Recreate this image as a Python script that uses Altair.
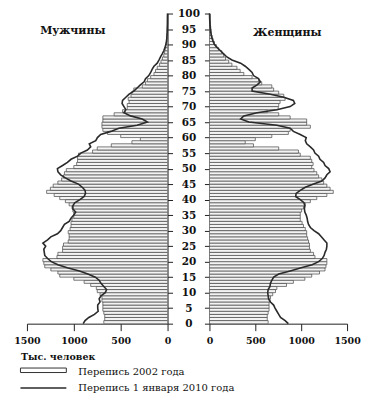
import altair as alt
import pandas as pd

ages = list(range(101))

# Перепись 2002 года, мужчины (тыс.)
m02 = [680, 670, 670, 680, 690, 690, 690, 700, 700, 720,
       750, 760, 820, 890, 1000, 1150, 1170, 1245, 1310, 1320,
       1330, 1180, 1170, 1120, 1120, 1110, 1060, 1050, 1050, 1060,
       1040, 1030, 1030, 1020, 1000, 1000, 1010, 1020, 1050, 1090,
       1150, 1210, 1290, 1250, 1220, 1170, 1130, 1110, 1100, 1080,
       1000, 970, 960, 960, 950, 800, 750, 600, 380, 290,
       500, 640, 690, 700, 700, 690, 690, 570, 480, 430,
       430, 410, 420, 390, 380, 360, 270, 235, 215, 180,
       145, 128, 110, 85, 70, 55, 40, 32, 25, 18,
       14, 10, 8, 6, 4, 3, 2, 2, 1, 1, 1]
# Перепись 2010 года, мужчины
m10 = [900, 880, 840, 780, 740, 745, 745, 720, 730, 710,
       665, 650, 680, 710, 730, 770, 850, 940, 1070, 1170,
       1240, 1280, 1310, 1315, 1320, 1300, 1330, 1280, 1245, 1175,
       1140, 1120, 1100, 1050, 1030, 1000, 980, 1010, 1010, 990,
       935, 890, 875, 880, 910, 950, 1030, 1090, 1140, 1170,
       1175, 1120, 1068, 1030, 960, 925, 855, 820, 835, 766,
       748, 713, 605, 520, 325, 215, 270, 395, 465, 445,
       465, 485, 480, 445, 410, 360, 325, 290, 250, 235,
       200, 180, 165, 145, 110, 92, 75, 57, 40, 28,
       18, 12, 8, 6, 4, 3, 2, 1, 1, 1, 0]
# Перепись 2002 года, женщины
f02 = [640, 630, 630, 640, 650, 650, 650, 660, 665, 690,
       720, 735, 840, 915, 1040, 1115, 1200, 1260, 1270, 1280,
       1280, 1150, 1135, 1100, 1090, 1090, 1080, 1070, 1060, 1060,
       1045, 1025, 1010, 990, 990, 990, 1005, 1025, 1045, 1100,
       1170, 1280, 1350, 1315, 1280, 1245, 1225, 1190, 1170, 1140,
       1115, 1130, 1115, 1100, 990, 970, 755, 480, 390, 500,
       680, 860, 880, 1100, 1060, 1060, 880, 755, 630, 750,
       755, 770, 825, 810, 755, 700, 680, 570, 535, 465,
       375, 335, 300, 245, 210, 175, 155, 135, 100, 75,
       55, 40, 30, 22, 18, 14, 10, 7, 5, 4, 3]
# Перепись 2010 года, женщины
f10 = [860, 825, 775, 755, 735, 715, 700, 665, 645, 640,
       635, 640, 660, 665, 680, 700, 755, 880, 1000, 1120,
       1190, 1230, 1250, 1260, 1275, 1280, 1280, 1250, 1220, 1190,
       1140, 1100, 1080, 1070, 1065, 1055, 1040, 1035, 1040, 1030,
       990, 940, 945, 990, 1045, 1135, 1225, 1260, 1280, 1315,
       1300, 1260, 1245, 1205, 1190, 1150, 1135, 1100, 1060, 1045,
       1055, 990, 915, 880, 735, 430, 340, 375, 520, 735,
       880, 930, 915, 810, 665, 465, 465, 520, 555, 535,
       480, 465, 430, 390, 340, 245, 190, 155, 120, 85,
       55, 40, 28, 20, 14, 10, 7, 5, 3, 2, 1]

x_ticks = [0, 500, 1000, 1500]
y_ticks = list(range(0, 101, 5))

df = pd.DataFrame({"age": ages, "m02": m02, "m10": m10, "f02": f02, "f10": f10})
df["age_top"] = df["age"] + 1
df["zero"] = 0

FONT = "DejaVu Serif"
INK = "#222222"
H = 311

yscale = alt.Scale(domain=[0, 100], nice=False, zero=False)


def panel(col_bar, col_line, reverse, width, left_side, title, title_x, title_y):
    xscale = alt.Scale(domain=[0, 1500], reverse=reverse, nice=False)
    xaxis = alt.Axis(values=x_ticks, grid=False, domainColor=INK, tickColor=INK,
                     tickSize=7, labelFont=FONT, labelFontSize=9.5,
                     labelFontWeight="bold", labelColor="#111", title=None,
                     labelPadding=5, labelFlush=False, labelOverlap=False, format="d")
    if left_side:
        yaxis = alt.Axis(values=y_ticks, orient="right", grid=False, domainColor=INK,
                         tickColor=INK, tickSize=5, labelFont=FONT, labelFontSize=10.5,
                         labelFontWeight="bold", labelColor="#111", labelAlign="center",
                         labelPadding=16, title=None, labelFlush=False, labelOverlap=False,
                         labelBound=False)
    else:
        yaxis = alt.Axis(values=y_ticks, orient="left", grid=False, domainColor=INK,
                         tickColor=INK, tickSize=5, labels=False, title=None)
    base = alt.Chart(df)
    bars = base.mark_rect(fill="#f3f3f3", stroke="#454545", strokeWidth=0.7, clip=True).encode(
        x=alt.X(f"{col_bar}:Q", scale=xscale, axis=xaxis),
        x2="zero",
        y=alt.Y("age:Q", scale=yscale, axis=yaxis),
        y2="age_top",
    )
    line = base.mark_line(color="#2a2a2a", strokeWidth=1.6).encode(
        x=alt.X(f"{col_line}:Q", scale=xscale, axis=xaxis),
        y=alt.Y("age:Q", scale=yscale, axis=yaxis),
        order=alt.Order("age:Q"),
    )
    ttl = alt.Chart(pd.DataFrame({"t": [title]})).mark_text(
        font=FONT, fontSize=11, fontWeight="bold", color="#111", align="center",
        baseline="middle").encode(
        text="t:N", x=alt.value(title_x), y=alt.value(title_y))
    layers = [bars, line, ttl]
    if left_side:
        one = pd.DataFrame({"a": [0]})
        unit = alt.Chart(pd.DataFrame({"t": ["Тыс. человек"]})).mark_text(
            font=FONT, fontSize=9.5, fontWeight="bold", color="#111", align="left",
            baseline="middle").encode(
            text="t:N", x=alt.value(-6), y=alt.value(344.5))
        lrect = alt.Chart(one).mark_rect(fill="#ffffff", stroke="#333333", strokeWidth=1).encode(
            x=alt.value(-6.5), x2=alt.value(39.5), y=alt.value(355.5), y2=alt.value(360))
        lline = alt.Chart(one).mark_rule(color="#2a2a2a", strokeWidth=1.6).encode(
            x=alt.value(-6.5), x2=alt.value(39.5), y=alt.value(375.5))
        lab1 = alt.Chart(pd.DataFrame({"t": ["Перепись 2002 года"]})).mark_text(
            font=FONT, fontSize=10, color="#111", align="left", baseline="middle").encode(
            text="t:N", x=alt.value(51.5), y=alt.value(359.5))
        lab2 = alt.Chart(pd.DataFrame({"t": ["Перепись 1 января 2010 года"]})).mark_text(
            font=FONT, fontSize=10, color="#111", align="left", baseline="middle").encode(
            text="t:N", x=alt.value(51.5), y=alt.value(375.5))
        layers += [unit, lrect, lline, lab1, lab2]
    return alt.layer(*layers).properties(width=width, height=H)


left = panel("m02", "m10", True, 141, True, "Мужчины", 46, 18)
right = panel("f02", "f10", False, 138, False, "Женщины", 78, 20)

chart = alt.hconcat(left, right, spacing=42, bounds="flush").configure_view(
    stroke=None).properties(padding={"left": 5, "top": 0, "right": 5, "bottom": 5})

chart.save("out.html", embed_options={"renderer": "svg", "actions": False})
